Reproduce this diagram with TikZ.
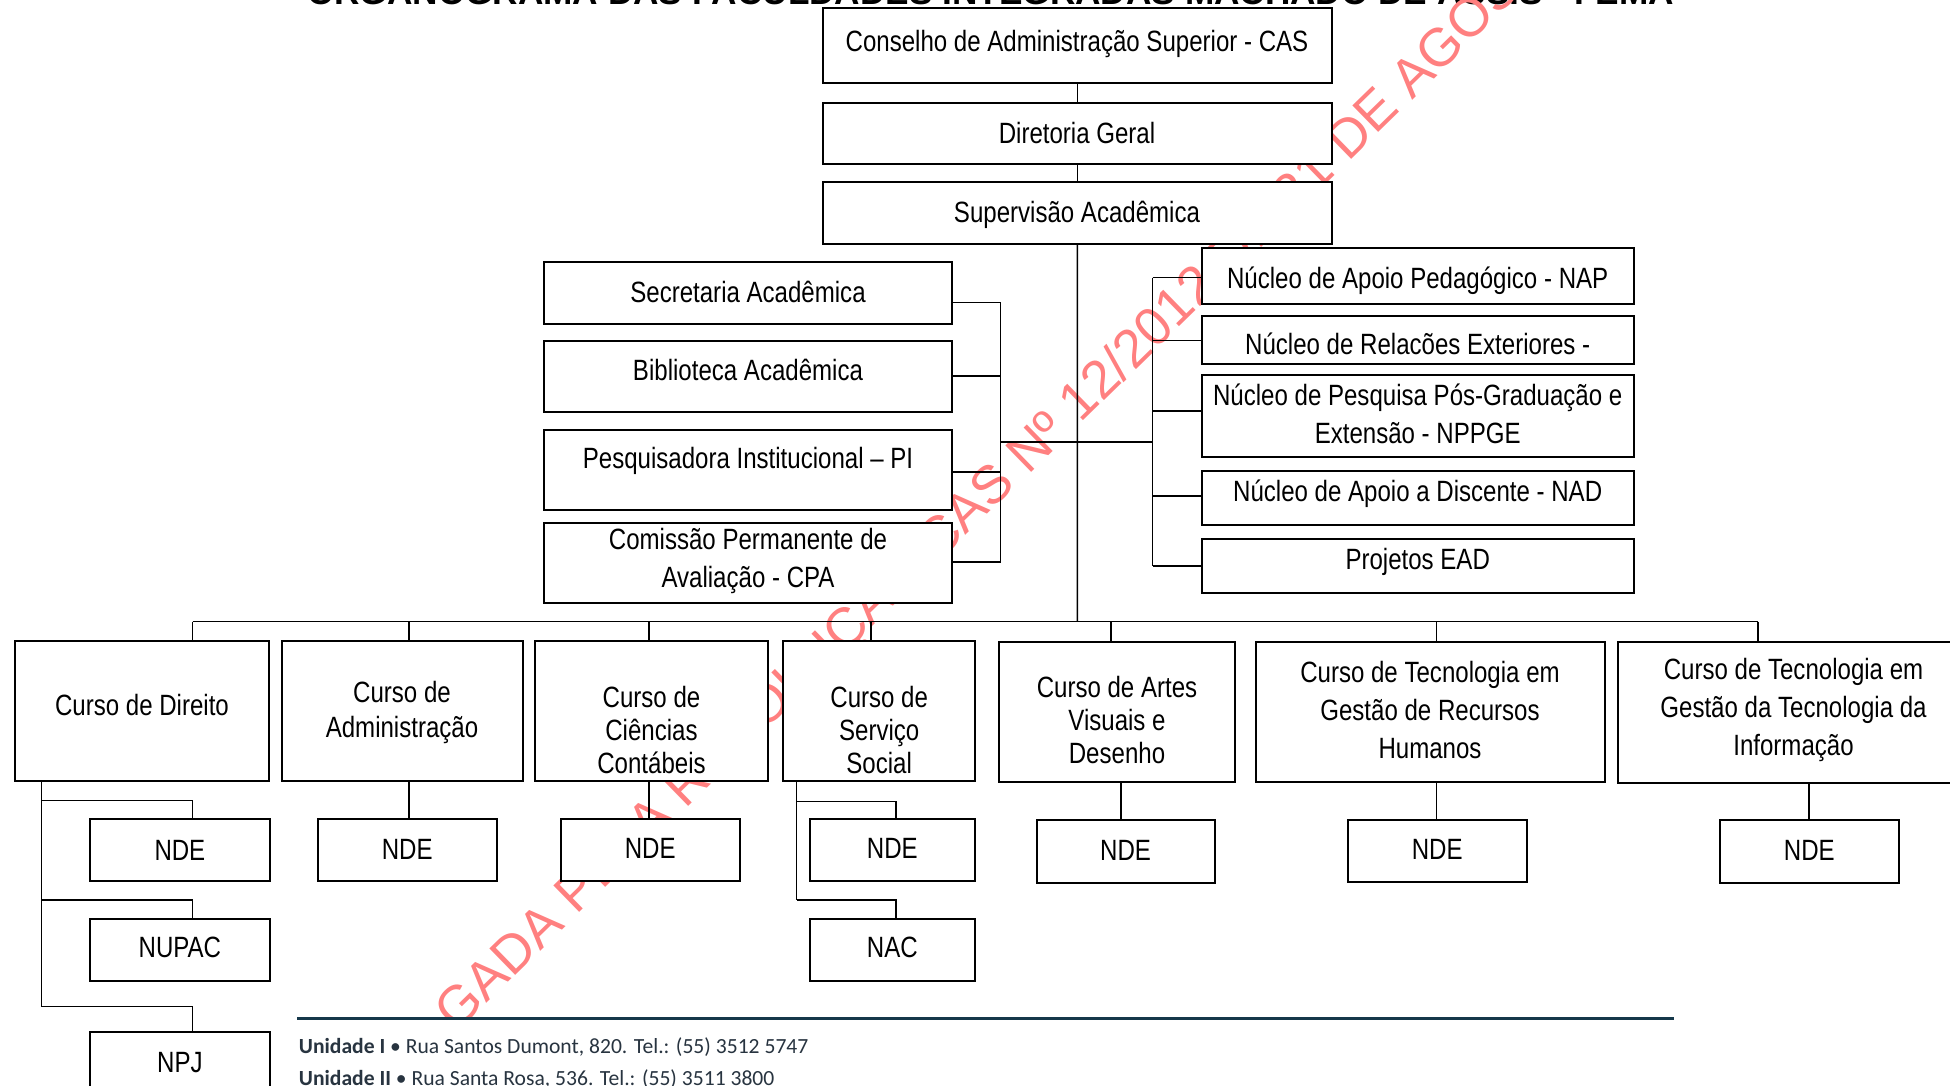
\documentclass[tikz,border=0pt]{standalone}
\usepackage{fontspec}
\setmainfont{Liberation Sans}[FakeStretch=0.82]
\newfontfamily\titlefont{Liberation Sans}
\newfontfamily\footfont{Carlito}
\usetikzlibrary{fit}
\definecolor{wmred}{RGB}{255,128,128}
\definecolor{footline}{RGB}{22,56,74}
\definecolor{foottext}{RGB}{40,52,64}
\begin{document}
\begin{tikzpicture}[x=0.5pt,y=-0.5pt,
  box/.style={draw=black, line width=1pt, fill=white, inner sep=0pt},
  conn/.style={draw=black, line width=0.75pt},
  txt/.style={inner sep=0pt, align=center, font=\fontsize{14.67}{19.2}\selectfont},
  one/.style={txt, text height=10.5pt, text depth=0pt},
  txtn/.style={txt, font=\fontsize{14.67}{16.7}\selectfont},
  txta/.style={txt, font=\fontsize{14.67}{17.5}\selectfont},
  foot/.style={inner sep=0pt, anchor=base west, text=foottext, font=\footfont\fontsize{10.8}{13}\selectfont}
]
\useasboundingbox (0,0) rectangle (1950,1086);
\clip (0,0) rectangle (1950,1086);

% title (cut at the top)
\node[anchor=base, inner sep=0pt, font=\titlefont\bfseries\fontsize{17.6}{20}\selectfont] (title) at (990.5,5) {ORGANOGRAMA DAS FACULDADES INTEGRADAS MACHADO DE ASSIS - FEMA};

% watermark
\node[anchor=base west, inner sep=0pt, rotate=44.3, text=wmred, font=\titlefont\fontsize{26.9}{30}\selectfont] (wm) at (456.5,1032.9) {GADA PELA RESOLUÇÃO CAS Nº 12/2012 DE 31 DE AGOSTO DE 2012};

% coordinates for connectors
\coordinate (lb1) at (1000.7,302.7);
\coordinate (lb2) at (1000.7,376);
\coordinate (lb3) at (1000.7,472);
\coordinate (lb4) at (1000.7,562);
\coordinate (lbm) at (1000.7,442);
\coordinate (rb1) at (1152.7,277.7);
\coordinate (rb2) at (1152.7,340.7);
\coordinate (rb3) at (1152.7,411);
\coordinate (rb4) at (1152.7,496);
\coordinate (rb5) at (1152.7,566);
\coordinate (rbm) at (1152.7,442);
\coordinate (busL) at (192.6,621.7);
\coordinate (busR) at (1758.2,621.7);
\coordinate (bus) at (1077.25,621.7);
\coordinate (dAdm) at (408.8,621.7);
\coordinate (dCont) at (649.2,621.7);
\coordinate (dServ) at (871.2,621.7);
\coordinate (dArt) at (1111.1,621.7);
\coordinate (dRH) at (1436.5,621.7);
\coordinate (b0) at (41.5,780);
\coordinate (b1) at (41.5,800.7);
\coordinate (b2) at (41.5,900);
\coordinate (b3) at (41.5,1006.7);
\coordinate (c1) at (192.6,800.7);
\coordinate (c2) at (192.6,900);
\coordinate (c3) at (192.6,1006.7);
\coordinate (s0) at (796.6,780);
\coordinate (s1) at (796.6,801.7);
\coordinate (s2) at (796.6,900);
\coordinate (t1) at (896,801.7);
\coordinate (t2) at (896,900);
\coordinate (dArtB) at (1121,781);
\coordinate (dTIB) at (1809,782);

% top chain
\node[box, fit={(823.7,9.3) (1330.8,81.7)}] (cas) {};
\node[box, fit={(823.7,104) (1330.8,163.3)}] (dg) {};
\node[box, fit={(823.7,183.3) (1330.8,242.7)}] (sa) {};

% connectors
\draw[conn] (cas.south) -- (dg.north);
\draw[conn] (dg.south) -- (sa.north);
\draw[conn] (sa.south) -- (bus);
\draw[conn] (lb1) -- (lb4);
\draw[conn] (rb1) -- (rb5);
\draw[conn] (lbm) -- (rbm);
\draw[conn] (busL) -- (busR);

% left group
\node[box, fit={(545.3,263.3) (951,322.7)}] (sec) {};
\node[box, fit={(545.3,341.7) (951,411)}] (bib) {};
\node[box, fit={(545.3,431) (951,508.7)}] (pi) {};
\node[box, fit={(545.3,524) (951,601.7)}] (cpa) {};
\draw[conn] (sec.east |- lb1) -- (lb1);
\draw[conn] (bib.east |- lb2) -- (lb2);
\draw[conn] (pi.east |- lb3) -- (lb3);
\draw[conn] (cpa.east |- lb4) -- (lb4);

% right group
\node[box, fit={(1202.7,249.3) (1632.7,302.7)}] (nap) {};
\node[box, fit={(1202.7,316.7) (1632.7,363.3)}] (nre) {};
\node[box, fit={(1202.7,376) (1632.7,456)}] (nppge) {};
\node[box, fit={(1202.7,472.3) (1632.7,524)}] (nad) {};
\node[box, fit={(1202.7,540) (1632.7,591.7)}] (ead) {};
\draw[conn] (rb1) -- (nap.west |- rb1);
\draw[conn] (rb2) -- (nre.west |- rb2);
\draw[conn] (rb3) -- (nppge.west |- rb3);
\draw[conn] (rb4) -- (nad.west |- rb4);
\draw[conn] (rb5) -- (ead.west |- rb5);

% courses
\node[box, fit={(16,642) (267.9,780)}] (dir) {};
\node[box, fit={(282.5,642) (521.7,780)}] (adm) {};
\node[box, fit={(535.7,642) (767.2,780)}] (cont) {};
\node[box, fit={(784.4,642) (973.9,780)}] (serv) {};
\node[box, fit={(1000.4,642.5) (1233.6,780.5)}] (art) {};
\node[box, fit={(1256.5,642.5) (1603.6,780.5)}] (rh) {};
\node[box, fit={(1619,642.5) (1968,782)}] (ti) {};
\draw[conn] (busL) -- (busL |- dir.north);
\draw[conn] (dAdm) -- (dAdm |- adm.north);
\draw[conn] (dCont) -- (dCont |- cont.north);
\draw[conn] (dServ) -- (dServ |- serv.north);
\draw[conn] (dArt) -- (dArt |- art.north);
\draw[conn] (dRH) -- (dRH |- rh.north);
\draw[conn] (busR) -- (busR |- ti.north);

% sub boxes
\node[box, fit={(91.2,820) (268.5,880)}] (ndeDir) {};
\node[box, fit={(91.2,920) (268.5,980)}] (nupac) {};
\node[box, fit={(91.2,1033.3) (268.5,1110)}] (npj) {};
\node[box, fit={(318.9,820) (495.5,880)}] (ndeAdm) {};
\node[box, fit={(561.9,820) (738.5,880)}] (ndeCont) {};
\node[box, fit={(810.6,820) (973.9,880)}] (ndeServ) {};
\node[box, fit={(810.6,920) (973.9,980)}] (nac) {};
\node[box, fit={(1037.5,821) (1213.8,881.7)}] (ndeArt) {};
\node[box, fit={(1348.7,820.7) (1525.6,881)}] (ndeRH) {};
\node[box, fit={(1720.5,821) (1898,882.3)}] (ndeTI) {};

\draw[conn] (b0) -- (b3);
\draw[conn] (b1) -- (c1) -- (c1 |- ndeDir.north);
\draw[conn] (b2) -- (c2) -- (c2 |- nupac.north);
\draw[conn] (b3) -- (c3) -- (c3 |- npj.north);
\draw[conn] (dAdm |- adm.south) -- (dAdm |- ndeAdm.north);
\draw[conn] (dCont |- cont.south) -- (dCont |- ndeCont.north);
\draw[conn] (s0) -- (s2);
\draw[conn] (s1) -- (t1) -- (t1 |- ndeServ.north);
\draw[conn] (s2) -- (t2) -- (t2 |- nac.north);
\draw[conn] (dArtB) -- (dArtB |- ndeArt.north);
\draw[conn] (dRH |- rh.south) -- (dRH |- ndeRH.north);
\draw[conn] (dTIB) -- (dTIB |- ndeTI.north);

% redraw boxes on top (white fill hides watermark)
\foreach \n in {cas,dg,sa,sec,bib,pi,cpa,nap,nre,nppge,nad,ead,dir,adm,cont,serv,art,rh,ti,ndeDir,nupac,npj,ndeAdm,ndeCont,ndeServ,nac,ndeArt,ndeRH,ndeTI}{
  \draw[line width=1pt, fill=white] (\n.south west) rectangle (\n.north east);
}

% texts
\node[one] (casT) at (1077,40.7) {Conselho de Administração Superior - CAS};
\node[one] (dgT) at (1077,133.3) {Diretoria Geral};
\node[one] (saT) at (1077,211.7) {Supervisão Acadêmica};
\node[one] (secT) at (748,291.7) {Secretaria Acadêmica};
\node[one] (bibT) at (748,370) {Biblioteca Acadêmica};
\node[one] (piT) at (748,458.3) {Pesquisadora Institucional – PI};
\node[txt] (cpaT) at (748,560.9) {Comissão Permanente de\\Avaliação - CPA};
\node[one] (napT) at (1417.7,277.7) {Núcleo de Apoio Pedagógico - NAP};
\node[one] (nreT) at (1417.7,344) {Núcleo de Relacões Exteriores -};
\node[txt] (nppgeT) at (1417.7,413.9) {Núcleo de Pesquisa Pós-Graduação e\\Extensão - NPPGE};
\node[one] (nadT) at (1417.7,490.7) {Núcleo de Apoio a Discente - NAD};
\node[one] (eadT) at (1417.7,559) {Projetos EAD};

\node[one] (dirT) at (142,705) {Curso de Direito};
\node[txta] (admT) at (402,712.5) {Curso de\\Administração};
\node[txtn] (contT) at (651.5,730) {Curso de\\Ciências\\Contábeis};
\node[txtn] (servT) at (879.2,730) {Curso de\\Serviço\\Social};
\node[txtn] (artT) at (1117,720) {Curso de Artes\\Visuais e\\Desenho};
\node[txt] (rhT) at (1430,710) {Curso de Tecnologia em\\Gestão de Recursos\\Humanos};
\node[txt] (tiT) at (1793.5,710) {Curso de Tecnologia em\\Gestão da Tecnologia da\\Informação};

\node[one] (ndeDirT) at (179.9,849.5) {NDE};
\node[one] (nupacT) at (179.9,947.3) {NUPAC};
\node[one] (npjT) at (179.9,1062.3) {NPJ};
\node[one] (ndeAdmT) at (407.2,849) {NDE};
\node[one] (ndeContT) at (650.2,848.3) {NDE};
\node[one] (ndeServT) at (892.3,848.3) {NDE};
\node[one] (nacT) at (892.3,946.7) {NAC};
\node[one] (ndeArtT) at (1125.6,850) {NDE};
\node[one] (ndeRHT) at (1437.2,849) {NDE};
\node[one] (ndeTIT) at (1809.3,850) {NDE};

% footer
\fill[white] (297,1019) rectangle (1700,1090);
\coordinate (fl1) at (297,1018.3);
\coordinate (fl2) at (1674,1018.3);
\draw[footline, line width=1.5pt] (fl1) -- (fl2);
\node[foot] (unid1) at (298.5,1053) {\textbf{Unidade I} • Rua Santos Dumont, 820. Tel.: (55) 3512 5747};
\node[foot] (unid2) at (298.5,1085) {\textbf{Unidade II} • Rua Santa Rosa, 536. Tel.: (55) 3511 3800};
\end{tikzpicture}
\end{document}
